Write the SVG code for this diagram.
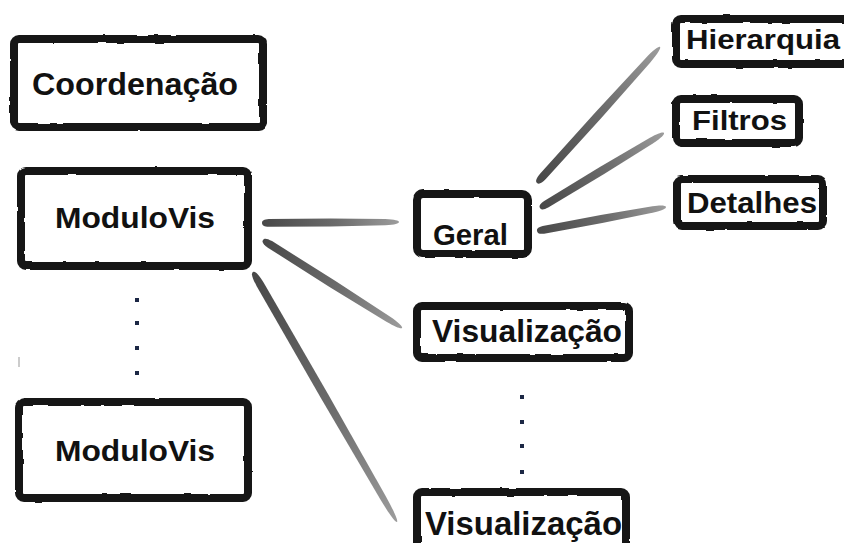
<svg xmlns="http://www.w3.org/2000/svg" xmlns:xlink="http://www.w3.org/1999/xlink" width="844" height="543" viewBox="0 0 844 543">
  <style>
    .box { fill: #ffffff; stroke: #151515; stroke-width: 8; stroke-linejoin: round; filter: url(#rough); }
    .label { font-family: "Liberation Sans", Arial, sans-serif; font-weight: bold; fill: #111111; }
    .dot { fill: #1c2745; }
    .stroke { fill: url(#brush); }
  </style>
  <defs>
    <!-- slight wobble for the marker-drawn frames -->
    <filter id="rough" x="-5%" y="-10%" width="110%" height="120%">
      <feTurbulence type="fractalNoise" baseFrequency="0.06" numOctaves="2" seed="3" result="noise"/>
      <feDisplacementMap in="SourceGraphic" in2="noise" scale="2.5" xChannelSelector="R" yChannelSelector="G"/>
    </filter>
    <!-- brush-like connector: unit length along x, absolute width in y -->
    <linearGradient id="brush" x1="0" y1="0" x2="1" y2="0">
      <stop offset="0" stop-color="#484848"/>
      <stop offset="0.55" stop-color="#6c6c6c"/>
      <stop offset="1" stop-color="#9c9c9c"/>
    </linearGradient>
    <path id="spindle" class="stroke" d="M0,0 C0,-2.5 0.015,-3.6 0.05,-3.9 L0.5,-4.1 L0.9,-3.2 C0.97,-2.8 1,-1.4 1,0 C1,1.4 0.97,2.8 0.9,3.2 L0.5,4.1 L0.05,3.9 C0.015,3.6 0,2.5 0,0 Z"/>
  </defs>

  <rect width="844" height="543" fill="#ffffff"/>

  <!-- connectors -->
  <g id="connectors">
    <use xlink:href="#spindle" transform="translate(262,223) rotate(-0.4) scale(137,1)"/>
    <use xlink:href="#spindle" transform="translate(263,240) rotate(32.3) scale(164.5,1)"/>
    <use xlink:href="#spindle" transform="translate(253,272) rotate(60.06) scale(288.5,1)"/>
    <use xlink:href="#spindle" transform="translate(537,183) rotate(-47.87) scale(183.4,1)"/>
    <use xlink:href="#spindle" transform="translate(540,208) rotate(-31.17) scale(144.9,1)"/>
    <use xlink:href="#spindle" transform="translate(537,231) rotate(-10.54) scale(131.2,1)"/>
  </g>

  <!-- left column -->
  <g id="coordenacao">
    <rect class="box" x="14" y="39" width="249" height="88" rx="5"/>
    <text class="label" x="32" y="95" font-size="32" textLength="206" lengthAdjust="spacingAndGlyphs">Coordenação</text>
  </g>
  <g id="modulovis-1">
    <rect class="box" x="21" y="171" width="227" height="95" rx="5"/>
    <text class="label" x="55" y="228" font-size="30" textLength="160" lengthAdjust="spacingAndGlyphs">ModuloVis</text>
  </g>
  <g id="modulovis-ellipsis">
    <rect class="dot" x="135" y="298" width="4" height="4"/>
    <rect class="dot" x="135" y="321" width="4" height="4"/>
    <rect class="dot" x="135" y="346" width="4" height="4"/>
    <rect class="dot" x="135" y="371" width="4" height="4"/>
  </g>
  <line x1="19" y1="357" x2="19" y2="367" stroke="#bbbbbb" stroke-width="1.5"/>
  <g id="modulovis-n">
    <rect class="box" x="19" y="402" width="229" height="96" rx="5"/>
    <text class="label" x="55" y="461" font-size="30" textLength="160" lengthAdjust="spacingAndGlyphs">ModuloVis</text>
  </g>

  <!-- middle column -->
  <g id="geral">
    <rect class="box" x="417" y="194" width="111" height="60" rx="6"/>
    <text class="label" x="433" y="245" font-size="30" textLength="75" lengthAdjust="spacingAndGlyphs">Geral</text>
  </g>
  <g id="visualizacao-1">
    <rect class="box" x="417" y="306" width="212" height="52" rx="5"/>
    <text class="label" x="432" y="342" font-size="31" textLength="190" lengthAdjust="spacingAndGlyphs">Visualização</text>
  </g>
  <g id="visualizacao-ellipsis">
    <rect class="dot" x="520" y="395" width="4" height="4"/>
    <rect class="dot" x="520" y="420" width="4" height="4"/>
    <rect class="dot" x="520" y="444" width="4" height="4"/>
    <rect class="dot" x="520" y="470" width="4" height="4"/>
  </g>
  <g id="visualizacao-n">
    <rect class="box" x="417" y="492" width="209" height="60" rx="5"/>
    <text class="label" x="425" y="535" font-size="33" textLength="197" lengthAdjust="spacingAndGlyphs">Visualização</text>
  </g>

  <!-- right column -->
  <g id="hierarquia">
    <rect class="box" x="676" y="19" width="175" height="45" rx="5"/>
    <text class="label" x="686" y="49" font-size="27" textLength="154" lengthAdjust="spacingAndGlyphs">Hierarquia</text>
  </g>
  <g id="filtros">
    <rect class="box" x="676" y="99" width="123" height="44" rx="5"/>
    <text class="label" x="692" y="130" font-size="28" textLength="95" lengthAdjust="spacingAndGlyphs">Filtros</text>
  </g>
  <g id="detalhes">
    <rect class="box" x="677" y="179" width="146" height="47" rx="5"/>
    <text class="label" x="687" y="213" font-size="29" textLength="130" lengthAdjust="spacingAndGlyphs">Detalhes</text>
  </g>
</svg>
